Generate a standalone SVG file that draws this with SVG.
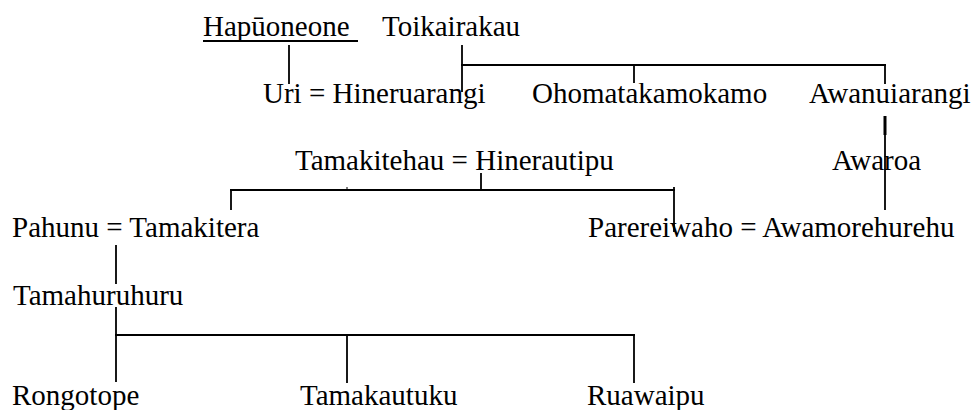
<svg xmlns="http://www.w3.org/2000/svg" width="973" height="410" viewBox="0 0 973 410">
<style>
text{font-family:"Liberation Serif","Times New Roman",serif;font-size:29px;fill:#000}
.c line{stroke:#000;stroke-width:1.8;fill:none}
</style>
<rect width="973" height="410" fill="#fff"/>
<g id="connectors" class="c">
  <line x1="203" y1="41" x2="358" y2="41" stroke-width="2"/>
  <line x1="289" y1="45" x2="289" y2="84"/>
  <line x1="462" y1="45" x2="462" y2="92"/>
  <line x1="461" y1="65" x2="886" y2="65"/>
  <line x1="634" y1="65" x2="634" y2="83"/>
  <line x1="885" y1="64" x2="885" y2="84"/>
  <line x1="885" y1="116" x2="885" y2="135" style="stroke-width:3"/>
  <line x1="885" y1="135" x2="885" y2="210"/>
  <line x1="481" y1="173" x2="481" y2="191"/>
  <line x1="230" y1="190" x2="675" y2="190"/>
  <line x1="347" y1="187" x2="347" y2="191" style="stroke-width:1"/>
  <line x1="231" y1="189" x2="231" y2="210"/>
  <line x1="674" y1="187" x2="674" y2="232"/>
  <line x1="116" y1="245" x2="116" y2="284"/>
  <line x1="116" y1="307" x2="116" y2="382"/>
  <line x1="115" y1="335" x2="635" y2="335"/>
  <line x1="347" y1="335" x2="347" y2="383"/>
  <line x1="634" y1="335" x2="634" y2="383"/>
</g>
<g id="hapuoneone"><text x="203" y="36">Hapūoneone</text></g>
<g id="toikairakau"><text x="382" y="36">Toikairakau</text></g>
<g id="uri-hineruarangi"><text x="263" y="103">Uri = Hineruarangi</text></g>
<g id="ohomatakamokamo"><text x="532" y="103">Ohomatakamokamo</text></g>
<g id="awanuiarangi"><text x="809" y="103">Awanuiarangi</text></g>
<g id="tamakitehau-hinerautipu"><text x="295" y="170">Tamakitehau = Hinerautipu</text></g>
<g id="awaroa"><text x="832" y="170">Awaroa</text></g>
<g id="pahunu-tamakitera"><text x="12" y="237">Pahunu = Tamakitera</text></g>
<g id="parereiwaho-awamorehurehu"><text x="588" y="237">Parereiwaho = Awamorehurehu</text></g>
<g id="tamahuruhuru"><text x="13" y="305">Tamahuruhuru</text></g>
<g id="rongotope"><text x="12" y="405">Rongotope</text></g>
<g id="tamakautuku"><text x="300" y="405">Tamakautuku</text></g>
<g id="ruawaipu"><text x="587" y="405">Ruawaipu</text></g>
</svg>
